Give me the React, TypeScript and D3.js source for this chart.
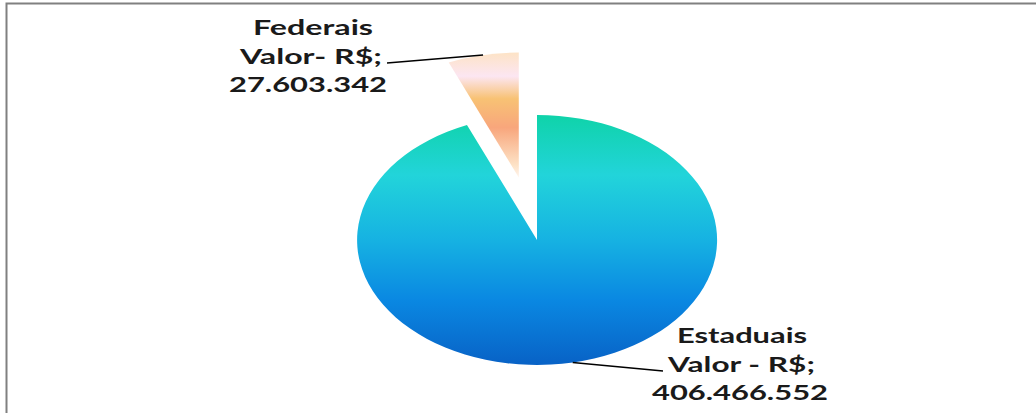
import React from "react";
import * as d3 from "d3";

const categories = ["Estaduais", "Federais"];
const values = [406466552, 27603342];
const labelLines = [
  ["Estaduais", "Valor - R$;", "406.466.552"],
  ["Federais", "Valor- R$;", "27.603.342"],
];
const exploded = [0, 0.51];

const W = 1036;
const H = 413;
const cx = 537;
const cy = 240;
const rx = 180;
const ry = 125;

const gradients = [
  [
    [0, "#0fd3a9"],
    [0.24, "#22d4da"],
    [0.5, "#16b2e2"],
    [0.74, "#0a88e2"],
    [1, "#0862c6"],
  ],
  [
    [0, "#fde3c6"],
    [0.19, "#fce6f2"],
    [0.37, "#f8c274"],
    [0.6, "#f8a67c"],
    [0.9, "#fde2c6"],
    [1, "#fff4ec"],
  ],
];

// label layout (positions only)
const labelPos = [
  { x: [677, 668, 652], y: [343, 372, 400], w: [130, 147, 176], end: [663, 371] },
  { x: [253, 240, 229], y: [35, 64, 92], w: [120, 142, 158], end: [387, 63] },
];

export default function App() {
  const pie = d3
    .pie<number>()
    .sort(null)
    .startAngle(0)
    .endAngle(2 * Math.PI);
  const arcs = pie(values);
  const arc = d3.arc<d3.PieArcDatum<number>>().innerRadius(0).outerRadius(1);

  return (
    <svg
      width={W}
      height={H}
      style={{ position: "absolute", left: 0, top: 0, background: "#fff" }}
    >
      <defs>
        {gradients.map((g, i) => (
          <linearGradient key={i} id={`grad${i}`} x1="0" y1="0" x2="0" y2="1">
            {g.map(([o, c], j) => (
              <stop key={j} offset={o as number} stopColor={c as string} />
            ))}
          </linearGradient>
        ))}
      </defs>
      <rect
        x={6.5}
        y={3.5}
        width={1200}
        height={600}
        fill="none"
        stroke="#808080"
        strokeWidth={2}
      />
      {arcs.map((a, i) => {
        const mid = (a.startAngle + a.endAngle) / 2;
        const off = exploded[i];
        const ox = cx + off * Math.sin(mid) * rx;
        const oy = cy - off * Math.cos(mid) * ry;
        const ex = ox + Math.sin(mid) * rx;
        const ey = oy - Math.cos(mid) * ry;
        const lp = labelPos[i];
        return (
          <g key={categories[i]}>
            <path
              d={arc(a) as string}
              transform={`translate(${ox},${oy}) scale(${rx},${ry})`}
              fill={`url(#grad${i})`}
            />
            <line
              x1={ex}
              y1={ey}
              x2={lp.end[0]}
              y2={lp.end[1]}
              stroke="#000"
              strokeWidth={1.6}
            />
            {labelLines[i].map((t, j) => (
              <text
                key={j}
                x={lp.x[j]}
                y={lp.y[j]}
                textLength={lp.w[j]}
                lengthAdjust="spacingAndGlyphs"
                fontFamily="Lato, 'Open Sans', sans-serif"
                fontWeight={700}
                fontSize={21}
                fill="#1a1a1a"
              >
                {t}
              </text>
            ))}
          </g>
        );
      })}
    </svg>
  );
}
